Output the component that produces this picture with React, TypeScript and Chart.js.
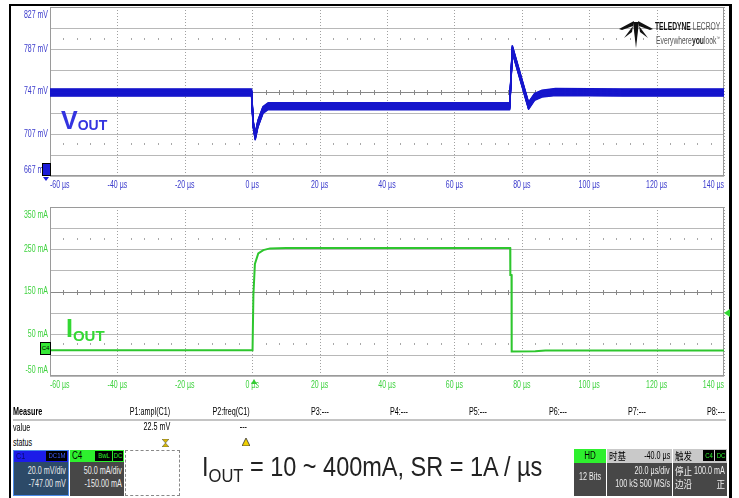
import React, { useEffect, useRef } from 'react';
import { Chart, registerables } from 'chart.js';
Chart.register(...registerables);

// ---------- data ----------
const TIME_TICKS = [-60, -40, -20, 0, 20, 40, 60, 80, 100, 120, 140];
const TIME_LABELS = ['-60 µs', '-40 µs', '-20 µs', '0 µs', '20 µs', '40 µs', '60 µs', '80 µs', '100 µs', '120 µs', '140 µs'];

const VOUT_TICKS = [827, 787, 747, 707, 667];
const VOUT_LABELS = ['827 mV', '787 mV', '747 mV', '707 mV', '667 mV'];
const VOUT_GRID = [827, 807, 787, 767, 747, 727, 707, 687, 667];
const VOUT_DOT_ROWS = [797, 697];

const IOUT_TICKS = [350, 250, 150, 50, -50];
const IOUT_LABELS = ['350 mA', '250 mA', '150 mA', '50 mA', '-50 mA'];
const IOUT_GRID = [350, 300, 250, 200, 150, 100, 50, 0, -50];
const IOUT_DOT_ROWS = [275, 25];

const VOUT_TIME = [-60, -30, -0.2, 0.3, 0.9, 1.7, 3.2, 4.7, 6, 20, 40, 60, 76.4, 77.2, 82.0, 83.8, 86, 90, 110, 140];
const VOUT_MV = [746, 746, 746, 716, 704.5, 716.5, 729.5, 733, 733, 733, 733, 733, 733, 787, 733.5, 742, 745, 746.5, 746, 746];

const IOUT_TIME = [-60, -30, 0.1, 0.35, 0.8, 1.8, 3.3, 5.3, 10, 40, 76.55, 76.6, 76.95, 77.0, 84, 87, 140];
const IOUT_MA = [11, 11, 11, 140, 215, 240, 248, 252, 253, 253, 253, 189, 189, 8, 8.5, 10.5, 10.5];

const MEASURE_HEADERS = ['P1:ampl(C1)', 'P2:freq(C1)', 'P3:---', 'P4:---', 'P5:---', 'P6:---', 'P7:---', 'P8:---'];
const MEASURE_VALUES = ['22.5 mV', '---', '', '', '', '', '', ''];

const FONT = '"Liberation Sans", Arial, sans-serif';
const CJK = '"Noto Sans CJK SC", "Liberation Sans", sans-serif';
const SX = 0.7;

const BLUE_TRACE = '#1616cc';
const BLUE_TEXT = '#3a3acc';
const GREEN_TRACE = '#2ec62e';
const GREEN_TEXT = '#3fd23f';

type ScopeOpts = {
  grid: number[];
  ticks: number[];
  labels: string[];
  center: number;
  dots: number[];
  color: string;
  smear?: string;
};

function drawText(ctx: CanvasRenderingContext2D, s: string, x: number, y: number, align: CanvasTextAlign) {
  ctx.save();
  ctx.translate(x, y);
  ctx.scale(SX, 1);
  ctx.textAlign = align;
  ctx.textBaseline = 'middle';
  ctx.fillText(s, 0, 0);
  ctx.restore();
}

function scopePlugin(o: ScopeOpts) {
  return {
    id: 'scope',
    beforeDatasetsDraw(chart: any) {
      const { ctx, chartArea: a } = chart;
      const xs = chart.scales.x;
      const ys = chart.scales.y;
      ctx.save();
      ctx.lineWidth = 1;
      ctx.strokeStyle = '#b8b8b8';
      o.grid.forEach((v) => {
        const py = Math.round(ys.getPixelForValue(v)) + 0.5;
        ctx.beginPath();
        ctx.moveTo(a.left, py);
        ctx.lineTo(a.right, py);
        ctx.stroke();
      });
      ctx.strokeStyle = '#a0a0a0';
      ctx.setLineDash([1, 2]);
      TIME_TICKS.forEach((t) => {
        const px = Math.round(xs.getPixelForValue(t)) + 0.5;
        ctx.beginPath();
        ctx.moveTo(px, a.top);
        ctx.lineTo(px, a.bottom);
        ctx.stroke();
      });
      ctx.setLineDash([]);
      const cy = Math.round(ys.getPixelForValue(o.center)) + 0.5;
      ctx.strokeStyle = '#888';
      ctx.beginPath();
      ctx.moveTo(a.left, cy);
      ctx.lineTo(a.right, cy);
      for (let t = -56; t < 140; t += 4) {
        if (t % 20 === 0) continue;
        const px = Math.round(xs.getPixelForValue(t)) + 0.5;
        ctx.moveTo(px, cy - 2.5);
        ctx.lineTo(px, cy + 2.5);
      }
      ctx.stroke();
      ctx.fillStyle = '#a8a8a8';
      o.dots.forEach((v) => {
        const py = Math.round(ys.getPixelForValue(v));
        for (let t = -56; t < 140; t += 4) {
          if (t % 20 === 0) continue;
          const px = Math.round(xs.getPixelForValue(t));
          ctx.fillRect(px, py - 1, 1, 2);
        }
      });
      ctx.strokeStyle = '#9a9a9a';
      ctx.strokeRect(a.left + 0.5, a.top + 0.5, a.right - a.left - 1, a.bottom - a.top - 1);
      if (o.smear) {
        const pts = chart.getDatasetMeta(0).data;
        ctx.save();
        ctx.beginPath();
        ctx.rect(a.left, a.top, a.right - a.left, a.bottom - a.top);
        ctx.clip();
        ctx.strokeStyle = o.smear;
        ctx.lineWidth = 1.4;
        ctx.lineJoin = 'round';
        for (let off = -3.5; off <= 3.5; off += 0.5) {
          ctx.beginPath();
          pts.forEach((p: any, i: number) => {
            if (i === 0) ctx.moveTo(p.x, p.y + off);
            else ctx.lineTo(p.x, p.y + off);
          });
          ctx.stroke();
        }
        ctx.restore();
      }
      ctx.restore();
    },
    afterDraw(chart: any) {
      const { ctx, chartArea: a } = chart;
      const xs = chart.scales.x;
      const ys = chart.scales.y;
      ctx.save();
      ctx.font = `10px ${FONT}`;
      ctx.fillStyle = o.color;
      o.ticks.forEach((v, i) => {
        let py = ys.getPixelForValue(v);
        if (i === 0) py = a.top + 8.5;
        else if (i === o.ticks.length - 1) py = a.bottom - 6;
        drawText(ctx, o.labels[i], a.left - 2, py, 'right');
      });
      TIME_TICKS.forEach((t, i) => {
        const px = xs.getPixelForValue(t);
        const align: CanvasTextAlign = i === 0 ? 'left' : i === TIME_TICKS.length - 1 ? 'right' : 'center';
        drawText(ctx, TIME_LABELS[i], px, a.bottom + 9.5, align);
      });
      ctx.restore();
    },
  };
}

function makeChart(canvas: HTMLCanvasElement, times: number[], values: number[], min: number, max: number,
  color: string, width: number, padding: any, opts: ScopeOpts) {
  return new Chart(canvas, {
    type: 'line',
    data: {
      datasets: [{
        data: times.map((t, i) => ({ x: t, y: values[i] })),
        borderColor: color,
        borderWidth: width,
        pointRadius: 0,
        tension: 0,
        fill: false,
      }],
    },
    options: {
      responsive: false,
      animation: false,
      events: [],
      layout: { padding },
      scales: {
        x: { type: 'linear', min: -60, max: 140, display: false },
        y: { type: 'linear', min, max, display: false },
      },
      plugins: { legend: { display: false }, tooltip: { enabled: false } },
    },
    plugins: [scopePlugin(opts)],
  } as any);
}

type TP = { x: number; y: number; s: string; a?: 'l' | 'r' | 'c'; size?: number; c?: string; b?: boolean; sx?: number; f?: string };
function T({ x, y, s, a = 'l', size = 10, c = '#000', b = false, sx = 0.72, f }: TP) {
  const st: React.CSSProperties = {
    position: 'absolute', top: y - size * 0.6, height: size * 1.2, lineHeight: `${size * 1.2}px`,
    fontSize: size, color: c, fontWeight: b ? 700 : 400, whiteSpace: 'nowrap', fontFamily: f ?? FONT,
  };
  if (a === 'l') Object.assign(st, { left: x, transform: `scaleX(${sx})`, transformOrigin: '0 50%' });
  else if (a === 'r') Object.assign(st, { right: 739 - x, transform: `scaleX(${sx})`, transformOrigin: '100% 50%' });
  else Object.assign(st, { left: x, transform: `translateX(-50%) scaleX(${sx})`, transformOrigin: '50% 50%' });
  return <div style={st}>{s}</div>;
}

function Box({ x, y, w, h, bg, border }: { x: number; y: number; w: number; h: number; bg: string; border?: string }) {
  return <div style={{ position: 'absolute', left: x, top: y, width: w, height: h, background: bg, border, boxSizing: 'border-box' }} />;
}

export default function App() {
  const topRef = useRef<HTMLCanvasElement>(null);
  const botRef = useRef<HTMLCanvasElement>(null);

  useEffect(() => {
    const top = makeChart(topRef.current!, VOUT_TIME, VOUT_MV, 667, 827, BLUE_TRACE, 1.5,
      { left: 39, right: 5, top: 1, bottom: 18 },
      { grid: VOUT_GRID, ticks: VOUT_TICKS, labels: VOUT_LABELS, center: 747, dots: VOUT_DOT_ROWS, color: BLUE_TEXT, smear: BLUE_TRACE });
    const bot = makeChart(botRef.current!, IOUT_TIME, IOUT_MA, -50, 350, GREEN_TRACE, 2,
      { left: 39, right: 5, top: 11, bottom: 20 },
      { grid: IOUT_GRID, ticks: IOUT_TICKS, labels: IOUT_LABELS, center: 150, dots: IOUT_DOT_ROWS, color: GREEN_TEXT });
    return () => { top.destroy(); bot.destroy(); };
  }, []);

  const colRight = (i: number) => 170 + i * 79.3;

  return (
    <div style={{ position: 'fixed', left: 0, top: 0, width: 739, height: 498, background: '#fff', overflow: 'hidden', fontFamily: FONT }}>
      <div style={{ position: 'absolute', left: 9, top: 4, width: 723, height: 520, borderLeft: '2px solid #000', borderTop: '2px solid #000', borderRight: '3px solid #000', boxSizing: 'border-box' }} />

      <canvas ref={topRef} width={718} height={188} style={{ position: 'absolute', left: 11, top: 6, width: 718, height: 188 }} />
      <canvas ref={botRef} width={718} height={200} style={{ position: 'absolute', left: 11, top: 196, width: 718, height: 200 }} />

      <div style={{ position: 'absolute', left: 61, top: 106, color: '#3434e0', fontWeight: 700, fontSize: 25, lineHeight: '28px', whiteSpace: 'nowrap' }}>
        V<span style={{ fontSize: 14, verticalAlign: -1 }}>OUT</span>
      </div>
      <div style={{ position: 'absolute', left: 66, top: 314, color: '#33d833', fontWeight: 700, fontSize: 25, lineHeight: '28px', whiteSpace: 'nowrap' }}>
        I<span style={{ fontSize: 15, verticalAlign: -4 }}>OUT</span>
      </div>

      <div style={{ position: 'absolute', left: 42, top: 163, width: 9, height: 13, background: '#1b1bd8', border: '1px solid #000', boxSizing: 'border-box' }} />
      <div style={{ position: 'absolute', left: 43, top: 177, width: 0, height: 0, borderLeft: '3px solid transparent', borderRight: '3px solid transparent', borderTop: '4px solid #1b1bd8' }} />
      <div style={{ position: 'absolute', left: 40, top: 342, width: 11, height: 13, background: '#36e836', border: '1px solid #000', boxSizing: 'border-box', fontSize: 6, lineHeight: '11px', textAlign: 'center', color: '#000' }}>C4</div>
      <div style={{ position: 'absolute', left: 724, top: 309, width: 0, height: 0, borderTop: '4px solid transparent', borderBottom: '4px solid transparent', borderRight: '6px solid #33d833' }} />
      <div style={{ position: 'absolute', left: 251, top: 379, width: 0, height: 0, borderLeft: '3px solid transparent', borderRight: '3px solid transparent', borderBottom: '5px solid #33cc33' }} />

      <svg style={{ position: 'absolute', left: 619, top: 21 }} width={34} height={27} viewBox="0 0 34 27">
        <polygon points="0,8 15,0 14,5 3,9" fill="#111" />
        <polygon points="34,8 19,0 20,5 31,9" fill="#111" />
        <polygon points="5,17 14,5 13,11" fill="#111" />
        <polygon points="29,17 20,5 21,11" fill="#111" />
        <polygon points="14,1 20,1 17,27" fill="#111" />
      </svg>
      <div style={{ position: 'absolute', left: 655, top: 20, fontSize: 11, lineHeight: '13px', whiteSpace: 'nowrap', transform: 'scaleX(0.61)', transformOrigin: '0 50%' }}>
        <span style={{ fontWeight: 700, color: '#111' }}>TELEDYNE</span><span style={{ color: '#555' }}> LECROY</span>
      </div>
      <div style={{ position: 'absolute', left: 656, top: 32, fontSize: 10, lineHeight: '12px', whiteSpace: 'nowrap', color: '#555', transform: 'scaleX(0.68)', transformOrigin: '0 50%' }}>
        Everywhere<span style={{ fontWeight: 700, color: '#222' }}>you</span>look<sup style={{ fontSize: 5 }}>™</sup>
      </div>

      <T x={13} y={412} s="Measure" b sx={0.72} />
      {MEASURE_HEADERS.map((h, i) => <T key={h} x={colRight(i)} y={412} s={h} a="r" />)}
      <div style={{ position: 'absolute', left: 13, top: 419, width: 713, height: 2, background: '#c4c4c4' }} />
      <T x={13} y={428} s="value" />
      {MEASURE_VALUES.map((v, i) => v ? <T key={'v' + i} x={colRight(i) - (i === 1 ? 2 : 0)} y={427} s={v} a="r" /> : null)}
      <T x={13} y={443} s="status" />
      <svg style={{ position: 'absolute', left: 162, top: 439 }} width={7} height={8} viewBox="0 0 7 8">
        <polygon points="0,0 7,0 3.5,4 7,8 0,8 3.5,4" fill="#d8b800" stroke="#555" strokeWidth={0.6} />
      </svg>
      <svg style={{ position: 'absolute', left: 242, top: 438 }} width={8} height={8} viewBox="0 0 8 8">
        <polygon points="4,0 8,8 0,8" fill="#f0d000" stroke="#333" strokeWidth={0.8} />
      </svg>

      <Box x={13} y={450} w={56} h={46} bg="#2c4a68" border="1px solid #4a8ae8" />
      <Box x={14} y={451} w={54} h={11} bg="#1c1ce8" />
      <Box x={46} y={451} w={21} h={10} bg="#000" />
      <T x={56.5} y={456} s="DC1M" a="c" size={8} c="#3b5bff" sx={0.75} />
      <T x={16} y={456} s="C1" size={9} c="#0a0a70" sx={0.8} />
      <T x={66} y={471} s="20.0 mV/div" a="r" c="#e8e8e8" />
      <T x={66} y={484} s="-747.00 mV" a="r" c="#e8e8e8" />

      <Box x={70} y={450} w={54} h={46} bg="#474747" />
      <Box x={70} y={450} w={54} h={12} bg="#2ef02e" />
      <Box x={95} y={451} w={17} h={10} bg="#000" />
      <Box x={113} y={451} w={10} h={10} bg="#000" />
      <T x={72} y={456} s="C4" size={10} c="#000" sx={0.8} />
      <T x={103.5} y={456} s="BwL" a="c" size={8} c="#2ef02e" sx={0.75} />
      <T x={118} y={456} s="DC" a="c" size={8} c="#2ef02e" sx={0.75} />
      <T x={122} y={471} s="50.0 mA/div" a="r" c="#eee" />
      <T x={122} y={484} s="-150.00 mA" a="r" c="#eee" />

      <div style={{ position: 'absolute', left: 125, top: 450, width: 55, height: 46, border: '1px dashed #888', boxSizing: 'border-box' }} />

      <div style={{ position: 'absolute', left: 202, top: 452, fontSize: 27, lineHeight: '30px', color: '#222', whiteSpace: 'nowrap', transform: 'scaleX(0.87)', transformOrigin: '0 50%', fontFamily: FONT }}>
        I<span style={{ fontSize: 19, verticalAlign: -6 }}>OUT</span> = 10 ~ 400mA, SR = 1A / µs
      </div>

      <Box x={574} y={449} w={32} h={47} bg="#474747" />
      <Box x={574} y={449} w={32} h={14} bg="#2ef02e" />
      <T x={590} y={456} s="HD" a="c" c="#000" sx={0.8} />
      <T x={590} y={477} s="12 Bits" a="c" c="#eee" />

      <Box x={607} y={449} w={65} h={47} bg="#474747" />
      <Box x={607} y={449} w={65} h={14} bg="#c9c9c9" />
      <T x={609} y={456} s="时基" f={CJK} size={10} sx={0.85} />
      <T x={670} y={456} s="-40.0 µs" a="r" />
      <T x={670} y={471} s="20.0 µs/div" a="r" c="#eee" />
      <T x={670} y={484} s="100 kS  500 MS/s" a="r" c="#eee" />

      <Box x={673} y={449} w={54} h={47} bg="#474747" />
      <Box x={673} y={449} w={54} h={14} bg="#c9c9c9" />
      <Box x={703} y={450} w={11} h={11} bg="#000" />
      <Box x={715} y={450} w={11} h={11} bg="#000" />
      <T x={675} y={456} s="触发" f={CJK} size={10} sx={0.85} />
      <T x={708.5} y={456} s="C4" a="c" size={8} c="#2ef02e" sx={0.75} />
      <T x={720.5} y={456} s="DC" a="c" size={8} c="#2ef02e" sx={0.75} />
      <T x={675} y={471} s="停止" f={CJK} size={10} c="#eee" sx={0.85} />
      <T x={725} y={471} s="100.0 mA" a="r" c="#eee" />
      <T x={675} y={484} s="边沿" f={CJK} size={10} c="#eee" sx={0.85} />
      <T x={725} y={484} s="正" a="r" f={CJK} size={10} c="#eee" sx={0.85} />
    </div>
  );
}
